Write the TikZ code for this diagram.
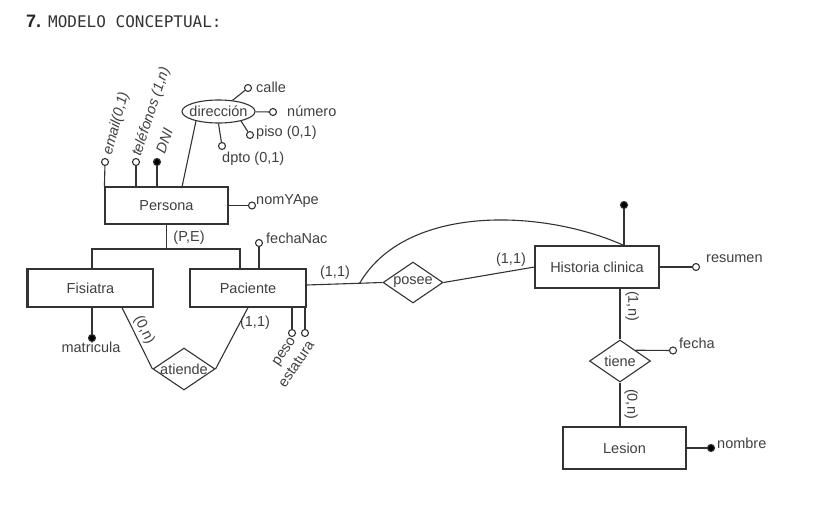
\documentclass[tikz,border=0pt]{standalone}
\usepackage{fontspec}
\setmainfont{Liberation Sans}
\newfontfamily\monof{DejaVu Sans Mono}
\usetikzlibrary{shapes.geometric,calc}
\definecolor{ln}{HTML}{333333}
\definecolor{tx}{HTML}{404040}
\begin{document}
\begin{tikzpicture}[x=1pt,y=-1pt,
  every node/.style={font=\fontsize{14.5}{16}\selectfont, text=tx},
  ent/.style={draw=ln, line width=1.1pt, inner sep=0pt},
  rel/.style={diamond, draw=ln, line width=1.1pt, inner sep=0pt},
  attr/.style={circle, draw=ln, fill=white, line width=1.1pt, minimum size=7pt, inner sep=0pt},
  keyattr/.style={attr, fill=black},
  conn/.style={draw=ln, line width=1.1pt},
  lab/.style={inner sep=0pt, anchor=west},
  itlab/.style={lab, font=\fontsize{14.5}{16}\selectfont\itshape},
  card/.style={inner sep=0pt}]
\useasboundingbox (0,0) rectangle (834,513);
\fill[white] (0,0) rectangle (834,513);

% title
\node[anchor=base west, inner sep=0pt, text=black!85, font=\fontsize{18}{20}\selectfont\bfseries] (t7) at (26,28) {7.};
\node[anchor=base west, inner sep=0pt, text=black!80, font=\monof\fontsize{16}{18}\selectfont] (ttl) at (48,28) {MODELO CONCEPTUAL:};

% entities
\node[ent, minimum width=123pt, minimum height=37pt] (persona) at (166.5,205.5) {Persona};
\node[ent, minimum width=125pt, minimum height=38pt] (fisiatra) at (90.5,288) {Fisiatra};
\node[ent, minimum width=116pt, minimum height=38pt] (paciente) at (248,288) {Paciente};
\node[ent, minimum width=124pt, minimum height=42pt] (hc) at (597,267) {Historia clinica};
\node[ent, minimum width=123pt, minimum height=42pt] (lesion) at (624.5,448) {Lesion};
\draw[ln, line width=2.2pt] (fisiatra.north west) -- (fisiatra.south west);

% relationships
\node[rel, minimum width=62pt, minimum height=42pt] (atiende) at (184,369) {};
\node[inner sep=0pt] (atiendeT) at (atiende) {atiende};
\node[rel, minimum width=60pt, minimum height=41pt] (posee) at (413,282.5) {};
\node[inner sep=0pt] (poseeT) at (posee) {posee};
\node[rel, minimum width=61pt, minimum height=42pt] (tiene) at (620,361) {};
\node[inner sep=0pt] (tieneT) at (tiene) {tiene};

% composite attribute
\node[ellipse, draw=ln, line width=1.1pt, minimum width=73pt, minimum height=23pt, inner sep=0pt] (dir) at (218.5,111.5) {};
\node[inner sep=0pt] (dirT) at (dir) {dirección};

% attribute circles
\node[attr] (aemail) at (105,162) {};
\node[attr] (atel) at (136,162) {};
\node[keyattr] (adni) at (157,162) {};
\node[attr] (acalle) at (248,88) {};
\node[attr] (anum) at (273,112) {};
\node[attr] (apiso) at (250,135) {};
\node[attr] (adpto) at (222,146) {};
\node[attr] (anom) at (252,205.5) {};
\node[attr] (afnac) at (259,243) {};
\node[keyattr] (amat) at (92,338) {};
\node[attr] (apeso) at (292,333) {};
\node[attr] (aest) at (305,333) {};
\node[keyattr] (ahck) at (624,205) {};
\node[attr] (ares) at (696,267) {};
\node[attr] (afecha) at (673,350.5) {};
\node[keyattr] (anombre) at (711,448) {};

% helper coordinates
\coordinate (gL) at (92,249);
\coordinate (gR) at (240,249);
\coordinate (pbot) at (182,187);
\coordinate (x122) at (122,0);
\coordinate (x248) at (248,0);

% attribute connectors
\draw[conn] (persona.north west) -- (aemail);
\draw[conn] (persona.north -| atel) -- (atel);
\draw[conn] (persona.north -| adni) -- (adni);
\draw[conn] (pbot) -- (dir.203);
\draw[conn] (acalle) -- (dir);
\draw[conn] (anum) -- (dir);
\draw[conn] (dir.-23) -- (apiso);
\draw[conn] (dir.south) -- (adpto);
\draw[conn] (persona.east) -- (anom);
\draw[conn] (paciente.north -| afnac) -- (afnac);
\draw[conn] (fisiatra.south -| amat) -- (amat);
\draw[conn] (paciente.south -| apeso) -- (apeso);
\draw[conn] (paciente.south -| aest) -- (aest);
\draw[conn] (hc.north -| ahck) -- (ahck);
\draw[conn] (hc.east) -- (ares);
\draw[conn] (tiene.north east) -- (afecha);
\draw[conn] (lesion.east) -- (anombre);

% generalization
\draw[conn] (persona.south) -- (persona.south |- gL);
\draw[conn] (fisiatra.north -| gL) -- (gL) -- (gR) -- (paciente.north -| gR);

% relationship connectors
\draw[conn] (fisiatra.south -| x122) -- (atiende.west);
\draw[conn] (paciente.south -| x248) -- (atiende.east);
\draw[conn] ([yshift=3pt]paciente.east) -- (posee.west);
\draw[conn] (posee.east) -- (hc.west);
\coordinate (cs) at ($([yshift=3pt]paciente.east)!0.7!(posee.west)$);
\draw[conn] (cs) .. controls (405,205) and (540,208) .. (hc.north -| ahck);
\draw[conn] (hc.south -| tiene.north) -- (tiene.north);
\draw[conn] (tiene.south) -- (lesion.north -| tiene.south);

% labels
\node[itlab, rotate=75] (lemail) at (108,155) {email(0,1)};
\node[itlab, rotate=72] (ltel) at (137,156) {teléfonos (1,n)};
\node[itlab, rotate=70] (ldni) at (160,153) {DNI};
\node[lab] (lcalle) at (256,87) {calle};
\node[lab] (lnum) at (287,111) {número};
\node[lab] (lpiso) at (256,133) {piso (0,1)};
\node[lab] (ldpto) at (222,159) {dpto (0,1)};
\node[lab] (lnom) at (256,201) {nomYApe};
\node[lab] (lfnac) at (266,238) {fechaNac};
\node[card] (lmat) at (91,347) {matricula};
\node[lab] (lres) at (706,259) {resumen};
\node[lab] (lfecha) at (679,343) {fecha};
\node[lab] (lnombre) at (717,443) {nombre};
\node[inner sep=0pt, anchor=east, rotate=56] (lpeso) at (294,339) {peso};
\node[inner sep=0pt, anchor=east, rotate=56] (lest) at (311,342) {estatura};

% cardinalities
\node[card] (cpe) at (189,238) {(P,E)};
\node[card] (c1) at (255,323) {(1,1)};
\node[card] (c2) at (335,273) {(1,1)};
\node[card] (c3) at (511,260) {(1,1)};
\node[card, rotate=-64] (c4) at (144,330) {(0,n)};
\node[card, rotate=-90] (c5) at (632,306) {(1,n)};
\node[card, rotate=-90] (c6) at (631,404) {(0,n)};
\end{tikzpicture}
\end{document}
